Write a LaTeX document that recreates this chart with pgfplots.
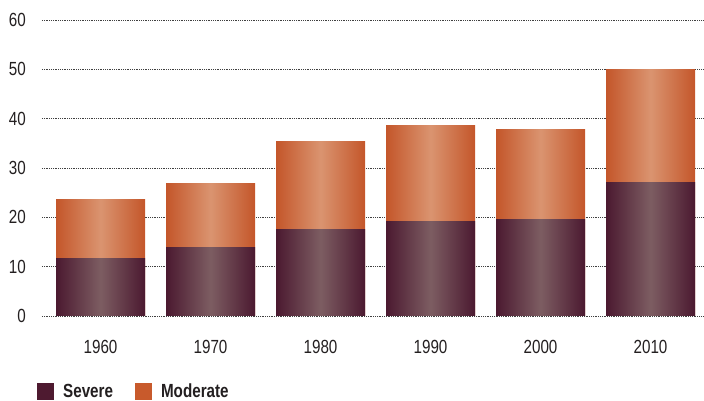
\documentclass[border=0pt]{standalone}
\usepackage{pgfplots}
\pgfplotsset{compat=1.18}
\usepackage{fontspec}
\setmainfont{Liberation Sans}[FakeStretch=0.8]
\definecolor{sevEdge}{HTML}{4B1930}
\definecolor{sevMid}{HTML}{7D5D62}
\definecolor{modEdge}{HTML}{C4562A}
\definecolor{modMid}{HTML}{DA9470}
\definecolor{sevLeg}{HTML}{4E1A30}
\definecolor{modLeg}{HTML}{C85A2C}
\definecolor{txt}{HTML}{231F20}
\begin{document}
\begin{tikzpicture}
\begin{axis}[
  scale only axis,
  width=662pt, height=296pt,
  xmin=-0.532, xmax=5.486,
  ymin=0, ymax=60,
  ybar, bar shift=0pt,
  bar width=0.809,
  xtick={0,1,2,3,4,5},
  xticklabels={1960,1970,1980,1990,2000,2010},
  ytick={0,10,20,30,40,50,60},
  ymajorgrids,
  major grid style={draw=black!75, line width=0.6pt, dash pattern=on 0.9pt off 0.9pt},
  axis line style={draw=none},
  tick style={draw=none},
  /pgf/number format/assume math mode=true,
  font=\fontsize{19}{22}\selectfont\color{txt},
  ticklabel style={font=\fontsize{19}{22}\selectfont\color{txt}},
  yticklabel style={inner sep=0pt, anchor=east, xshift=-16pt},
  xticklabel style={inner sep=0pt, anchor=north, yshift=-20pt},
  legend style={at={(rel axis cs:0,0)}, anchor=north west, xshift=-5pt, yshift=-66pt,
    draw=none, fill=none, inner sep=0pt,
    font=\fontsize{19}{22}\selectfont\bfseries\color{txt},
    /tikz/every even column/.append style={column sep=20pt}},
  legend columns=2,
  legend cell align=left,
  mod/.style={draw=none, left color=modEdge, right color=modEdge, middle color=modMid, forget plot},
  sev/.style={draw=none, left color=sevEdge, right color=sevEdge, middle color=sevMid, forget plot},
]
\addlegendimage{draw=none, legend image code/.code={\fill[sevLeg, draw=none] (0pt,-8.5pt) rectangle (17pt,8.5pt); \path[draw=none, fill=none] (0pt,0pt) -- (24pt,0pt);}}
\addlegendentry{Severe}
\addlegendimage{draw=none, legend image code/.code={\fill[modLeg, draw=none] (0pt,-8.5pt) rectangle (17pt,8.5pt); \path[draw=none, fill=none] (0pt,0pt) -- (24pt,0pt);}}
\addlegendentry{Moderate}
% totals (Moderate on top of Severe)
\addplot[mod] coordinates {(0,23.7)};
\addplot[mod] coordinates {(1,26.8)};
\addplot[mod] coordinates {(2,35.3)};
\addplot[mod] coordinates {(3,38.7)};
\addplot[mod] coordinates {(4,37.9)};
\addplot[mod] coordinates {(5,49.9)};
% Severe
\addplot[sev] coordinates {(0,11.7)};
\addplot[sev] coordinates {(1,13.9)};
\addplot[sev] coordinates {(2,17.5)};
\addplot[sev] coordinates {(3,19.2)};
\addplot[sev] coordinates {(4,19.6)};
\addplot[sev] coordinates {(5,27.1)};
\end{axis}
\pgfresetboundingbox
\path (current axis.south west) ++(-42pt,-85pt) rectangle ++(704pt,401pt);
\end{tikzpicture}
\end{document}
